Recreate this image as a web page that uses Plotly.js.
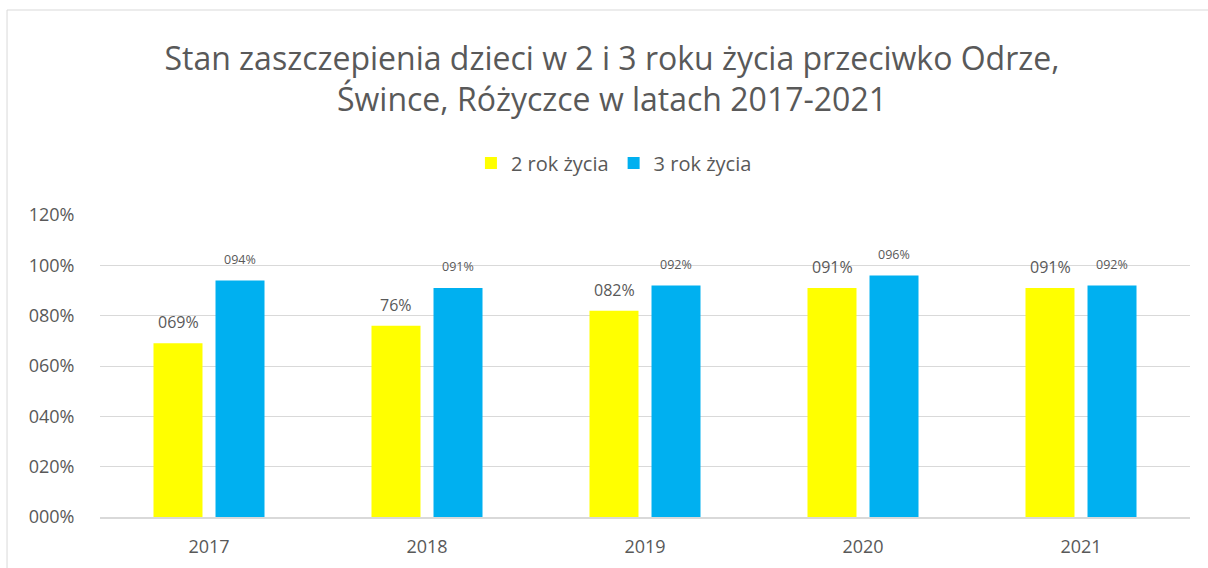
<!DOCTYPE html>
<html>
<head>
<meta charset="utf-8">
<script src="https://cdn.plot.ly/plotly-3.0.1.min.js"></script>
<style>html,body{margin:0;padding:0;background:#fff;}#chart{width:1208px;height:568px;}</style>
</head>
<body>
<div id="chart"></div>
<script>
const years = ['2017', '2018', '2019', '2020', '2021'];
const seriesNames = ['2 rok życia', '3 rok życia'];
const rok2 = [0.69, 0.76, 0.82, 0.91, 0.91];
const rok3 = [0.94, 0.91, 0.92, 0.96, 0.92];
const rok2Labels = ['069%', '76%', '082%', '091%', '091%'];
const rok3Labels = ['094%', '091%', '092%', '096%', '092%'];
const yTickVals = [0, 0.2, 0.4, 0.6, 0.8, 1.0, 1.2];
const yTickText = ['000%', '020%', '040%', '060%', '080%', '100%', '120%'];

const FONT = 'Open Sans, Noto Sans, sans-serif';
const GREY = '#595959';

const traces = [
  {type: 'bar', name: seriesNames[0], x: years, y: rok2, marker: {color: '#FFFF00'}, hoverinfo: 'none'},
  {type: 'bar', name: seriesNames[1], x: years, y: rok3, marker: {color: '#00B0F0'}, hoverinfo: 'none'}
];

const annotations = [];
years.forEach((yr, i) => {
  annotations.push({x: i, y: rok2[i], xref: 'x', yref: 'y', text: rok2Labels[i], showarrow: false,
    xshift: -31, yshift: 21, yanchor: 'middle', font: {family: FONT, size: 16, color: GREY}});
  annotations.push({x: i, y: rok3[i], xref: 'x', yref: 'y', text: rok3Labels[i], showarrow: false,
    xshift: 31, yshift: 21, yanchor: 'middle', font: {family: FONT, size: 12.5, color: GREY}});
});

const layout = {
  width: 1208, height: 568,
  margin: {l: 100, r: 18, t: 215, b: 51, autoexpand: false},
  paper_bgcolor: '#ffffff', plot_bgcolor: '#ffffff',
  font: {family: FONT, color: GREY},
  title: {
    text: 'Stan zaszczepienia dzieci w 2 i 3 roku życia przeciwko Odrze,<br>Śwince, Różyczce w latach 2017-2021',
    font: {family: FONT, size: 32, color: GREY},
    xref: 'container', x: 0.5066, xanchor: 'center',
    yref: 'container', y: 0.877, yanchor: 'top'
  },
  barmode: 'group', bargap: 0.431, bargroupgap: 0.21,
  showlegend: true,
  legend: {orientation: 'h', x: 0.4715, xanchor: 'center', y: 1.172, yanchor: 'middle',
    font: {family: FONT, size: 20, color: GREY}, traceorder: 'normal'},
  xaxis: {
    type: 'category', range: [-0.5, 4.5], autorange: false,
    showgrid: false, showline: true, linecolor: '#d9d9d9', linewidth: 1.5,
    ticks: 'outside', ticklen: 13, tickcolor: 'rgba(0,0,0,0)',
    tickfont: {family: FONT, size: 18, color: GREY}, fixedrange: true, automargin: false
  },
  yaxis: {
    range: [0, 1.2], autorange: false, tickvals: yTickVals, ticktext: yTickText,
    showgrid: true, gridcolor: '#d9d9d9', gridwidth: 1, zeroline: false, showline: false,
    ticks: 'outside', ticklen: 21, tickcolor: 'rgba(0,0,0,0)',
    tickfont: {family: FONT, size: 18, color: GREY}, fixedrange: true, automargin: false
  },
  shapes: [{type: 'rect', xref: 'paper', yref: 'paper', x0: -0.0853, x1: 1.2, y0: -0.4, y1: 1.6788,
    line: {color: '#d9d9d9', width: 1}, fillcolor: 'rgba(0,0,0,0)', layer: 'below'}],
  annotations: annotations
};

Plotly.newPlot('chart', traces, layout, {displayModeBar: false, staticPlot: true});
</script>
</body>
</html>
